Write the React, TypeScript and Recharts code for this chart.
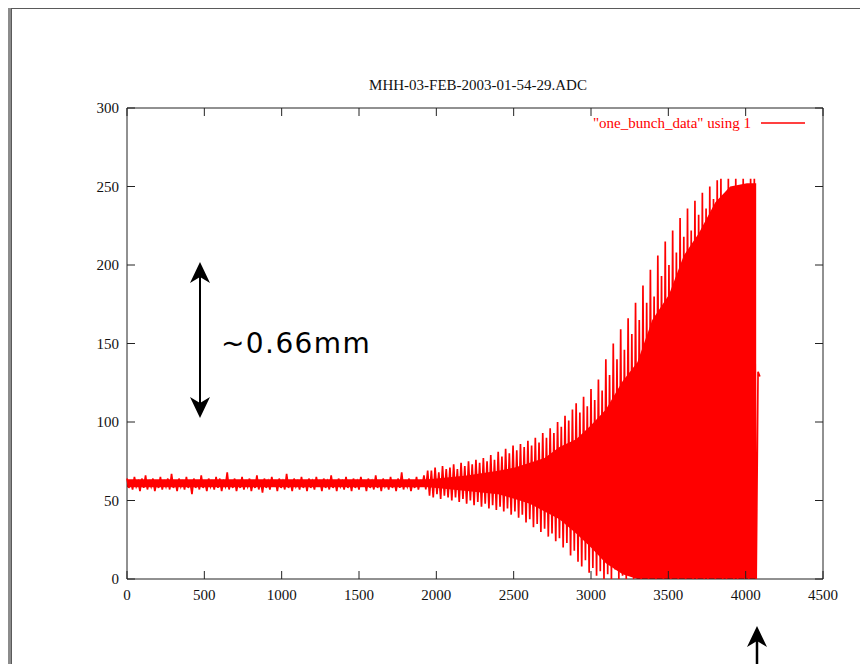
import { ComposedChart, Area, Line, XAxis, YAxis, ReferenceArea } from "recharts";

// ADC samples, read every 12th sample off the trace (alternating crest / trough)
const SAMPLE_STEP = 12;

const quietBand = [
  64, 58, 63, 57, 65, 59, 62, 56, 64, 58, 66, 57, 63, 59, 64, 56, 62, 58, 65, 57,
  63, 59, 64, 57, 67, 58, 62, 56, 64, 59, 63, 57, 65, 58, 62, 54, 64, 58, 63, 57,
  66, 58, 62, 56, 64, 59, 63, 57, 65, 58, 64, 56, 62, 59, 68, 57, 63, 58, 64, 56,
  62, 58, 65, 57, 63, 59, 64, 56, 62, 58, 66, 57, 63, 55, 64, 58, 62, 57, 65, 59,
  63, 56, 64, 58, 62, 57, 67, 58, 63, 56, 64, 59, 62, 57, 65, 58, 63, 56, 64, 58,
  62, 57, 65, 59, 63, 56, 64, 58, 62, 57, 66, 58, 63, 56, 64, 59, 62, 57, 65, 58,
  63, 56, 64, 58, 62, 57, 65, 59, 63, 56, 64, 58, 62, 57, 66, 58, 63, 56, 64, 59,
  62, 57, 65, 58, 63, 56, 64, 58, 68, 57, 63, 59, 64, 56, 62, 58, 65, 57, 63, 59,
  66, 57, 69,
];

const rampUp = [
  53, 69, 52, 71, 54, 68, 51, 72, 53, 70, 52, 71, 50,
  73, 52, 70, 49, 74, 51, 72, 48, 75, 50, 73, 47, 76, 49, 74, 46,
  77, 48, 75, 45, 79, 47, 76, 44, 81, 46, 78, 43, 83, 45, 80, 41,
  85, 43, 82, 39, 86, 41, 84, 36, 88, 38, 85, 33, 90, 35, 87, 30, 93,
  32, 90, 27, 96, 29, 93, 24, 100, 26, 97, 20, 104, 23, 101, 15, 108, 18,
  112, 11, 106, 8, 116, 12, 110, 4, 121, 7, 114, 2, 127, 5, 120, 0,
];

const saturated = [
  140, 3, 130, 0, 150, 6, 140, 0, 159, 2, 146, 0, 166, 4, 156, 0, 176,
  1, 165, 0, 187, 3, 176, 0, 197, 18, 180, 0, 206, 2, 193, 0, 215, 5,
  200, 0, 222, 1, 208, 0, 230, 22, 218, 0, 236, 3, 222, 0, 241, 0,
  232, 2, 246, 0, 236, 0, 250, 28, 242, 0, 254, 1,
  255, 0, 240, 0, 255, 3, 222, 0, 255, 0, 250, 14, 255, 0, 200, 0, 255, 2, 255, 0,
  132, 129,
];

// band the trace fills solidly (densely overdrawn)
const coreSamples = [
  0, 504, 996, 1500, 1944, 2004, 2196, 2400, 2508, 2604, 2700, 2796, 2904,
  3000, 3096, 3204, 3300, 3396, 3504, 3600, 3696, 3804, 3900, 4008, 4068,
];
const coreLower = [
  58.5, 58.5, 58.5, 58.5, 58.5, 58, 56, 54, 51, 48, 43, 38, 29,
  20, 10, 3, 0, 0, 0, 0, 0, 0, 0, 0, 0,
];
const coreUpper = [
  63.5, 63.5, 63.5, 63.5, 63.5, 64, 66, 69, 71, 74, 77, 84, 89,
  98, 108, 126, 138, 165, 181, 206, 220, 240, 250, 252, 252,
];

const xTicks = [0, 500, 1000, 1500, 2000, 2500, 3000, 3500, 4000, 4500];
const yTicks = [0, 50, 100, 150, 200, 250, 300];

const samples = [...quietBand, ...rampUp, ...saturated];
const data = samples.map((adc, i) => {
  const sample = i * SAMPLE_STEP;
  const k = coreSamples.indexOf(sample);
  return { sample, adc, core: k >= 0 ? [coreLower[k], coreUpper[k]] : undefined };
});

const W = 868;
const H = 672;
const PLOT_TOP = 108;
const PLOT_LEFT = 127;
const PLOT_RIGHT = 823;
const PLOT_BOTTOM = 579;
const TICK = 8;
const serif = "'Liberation Serif', 'Times New Roman', serif";
const ink = "#222";

function XTick(props: any) {
  const { x, y, payload } = props;
  return (
    <g>
      <line x1={x} y1={PLOT_BOTTOM} x2={x} y2={PLOT_BOTTOM - TICK} stroke={ink} />
      <line x1={x} y1={PLOT_TOP} x2={x} y2={PLOT_TOP + TICK} stroke={ink} />
      <text x={x} y={y + 21} textAnchor="middle" fontFamily={serif} fontSize={15} fill="#111">
        {payload.value}
      </text>
    </g>
  );
}

function YTick(props: any) {
  const { y, payload } = props;
  return (
    <g>
      <line x1={PLOT_LEFT} y1={y} x2={PLOT_LEFT + TICK} y2={y} stroke={ink} />
      <line x1={PLOT_RIGHT} y1={y} x2={PLOT_RIGHT - TICK} y2={y} stroke={ink} />
      <text x={PLOT_LEFT - 8} y={y + 5} textAnchor="end" fontFamily={serif} fontSize={15} fill="#111">
        {payload.value}
      </text>
    </g>
  );
}

export default function App() {
  return (
    <div style={{ position: "relative", width: W, height: H, margin: -8, overflow: "hidden", background: "#fff" }}>
      <div
        style={{
          position: "absolute",
          left: 7,
          top: 5,
          width: 1000,
          height: 1000,
          borderLeft: "4px solid #8c8c8c",
          borderTop: "3px solid #8c8c8c",
        }}
      >
        <div style={{ width: "100%", height: "100%", borderLeft: "1px solid #5a5a5a", borderTop: "1px solid #5a5a5a" }} />
      </div>
      <div style={{ position: "absolute", left: 0, top: 0 }}>
        <ComposedChart
          width={W}
          height={H}
          data={data}
          margin={{ top: PLOT_TOP, right: W - PLOT_RIGHT, bottom: H - PLOT_BOTTOM - 30, left: PLOT_LEFT - 60 }}
        >
          <XAxis
            dataKey="sample"
            type="number"
            domain={[0, 4500]}
            ticks={xTicks}
            height={30}
            axisLine={false}
            tickLine={false}
            tickSize={0}
            tickMargin={0}
            tick={<XTick />}
            interval={0}
          />
          <YAxis
            type="number"
            domain={[0, 300]}
            ticks={yTicks}
            width={60}
            axisLine={false}
            tickLine={false}
            tickSize={0}
            tickMargin={0}
            tick={<YTick />}
            interval={0}
          />
          <Area
            type="linear"
            dataKey="core"
            stroke="none"
            fill="#ff0000"
            fillOpacity={1}
            connectNulls
            isAnimationActive={false}
          />
          <Line
            type="linear"
            dataKey="adc"
            stroke="#ff0000"
            strokeWidth={1.7}
            dot={false}
            isAnimationActive={false}
          />
          <ReferenceArea x1={0} x2={4500} y1={0} y2={300} fill="none" stroke={ink} strokeWidth={1} ifOverflow="visible" />
        </ComposedChart>
      </div>
      <svg width={W} height={H} style={{ position: "absolute", left: 0, top: 0, pointerEvents: "none" }}>
        <text x={478} y={90} textAnchor="middle" fontFamily={serif} fontSize={15} fill="#111">
          MHH-03-FEB-2003-01-54-29.ADC
        </text>
        <text x={751} y={128} textAnchor="end" fontFamily={serif} fontSize={15} fill="#ff0000">
          "one_bunch_data" using 1
        </text>
        <line x1={761} y1={123} x2={805} y2={123} stroke="#ff0000" strokeWidth={1.5} />

        <line x1={200} y1={272} x2={200} y2={408} stroke="#000" strokeWidth={2} />
        <path d="M200 262 L210 283 L200 277 L190 283 Z" fill="#000" />
        <path d="M200 418 L210 397 L200 403 L190 397 Z" fill="#000" />
        <text x={221} y={353} fontFamily="'DejaVu Sans', Verdana, sans-serif" fontSize={28} letterSpacing={1.4} fill="#000">
          ~0.66mm
        </text>

        <line x1={757} y1={636} x2={757} y2={H} stroke="#000" strokeWidth={2.5} />
        <path d="M757 626 L767 647 L757 641 L747 647 Z" fill="#000" />
      </svg>
    </div>
  );
}
